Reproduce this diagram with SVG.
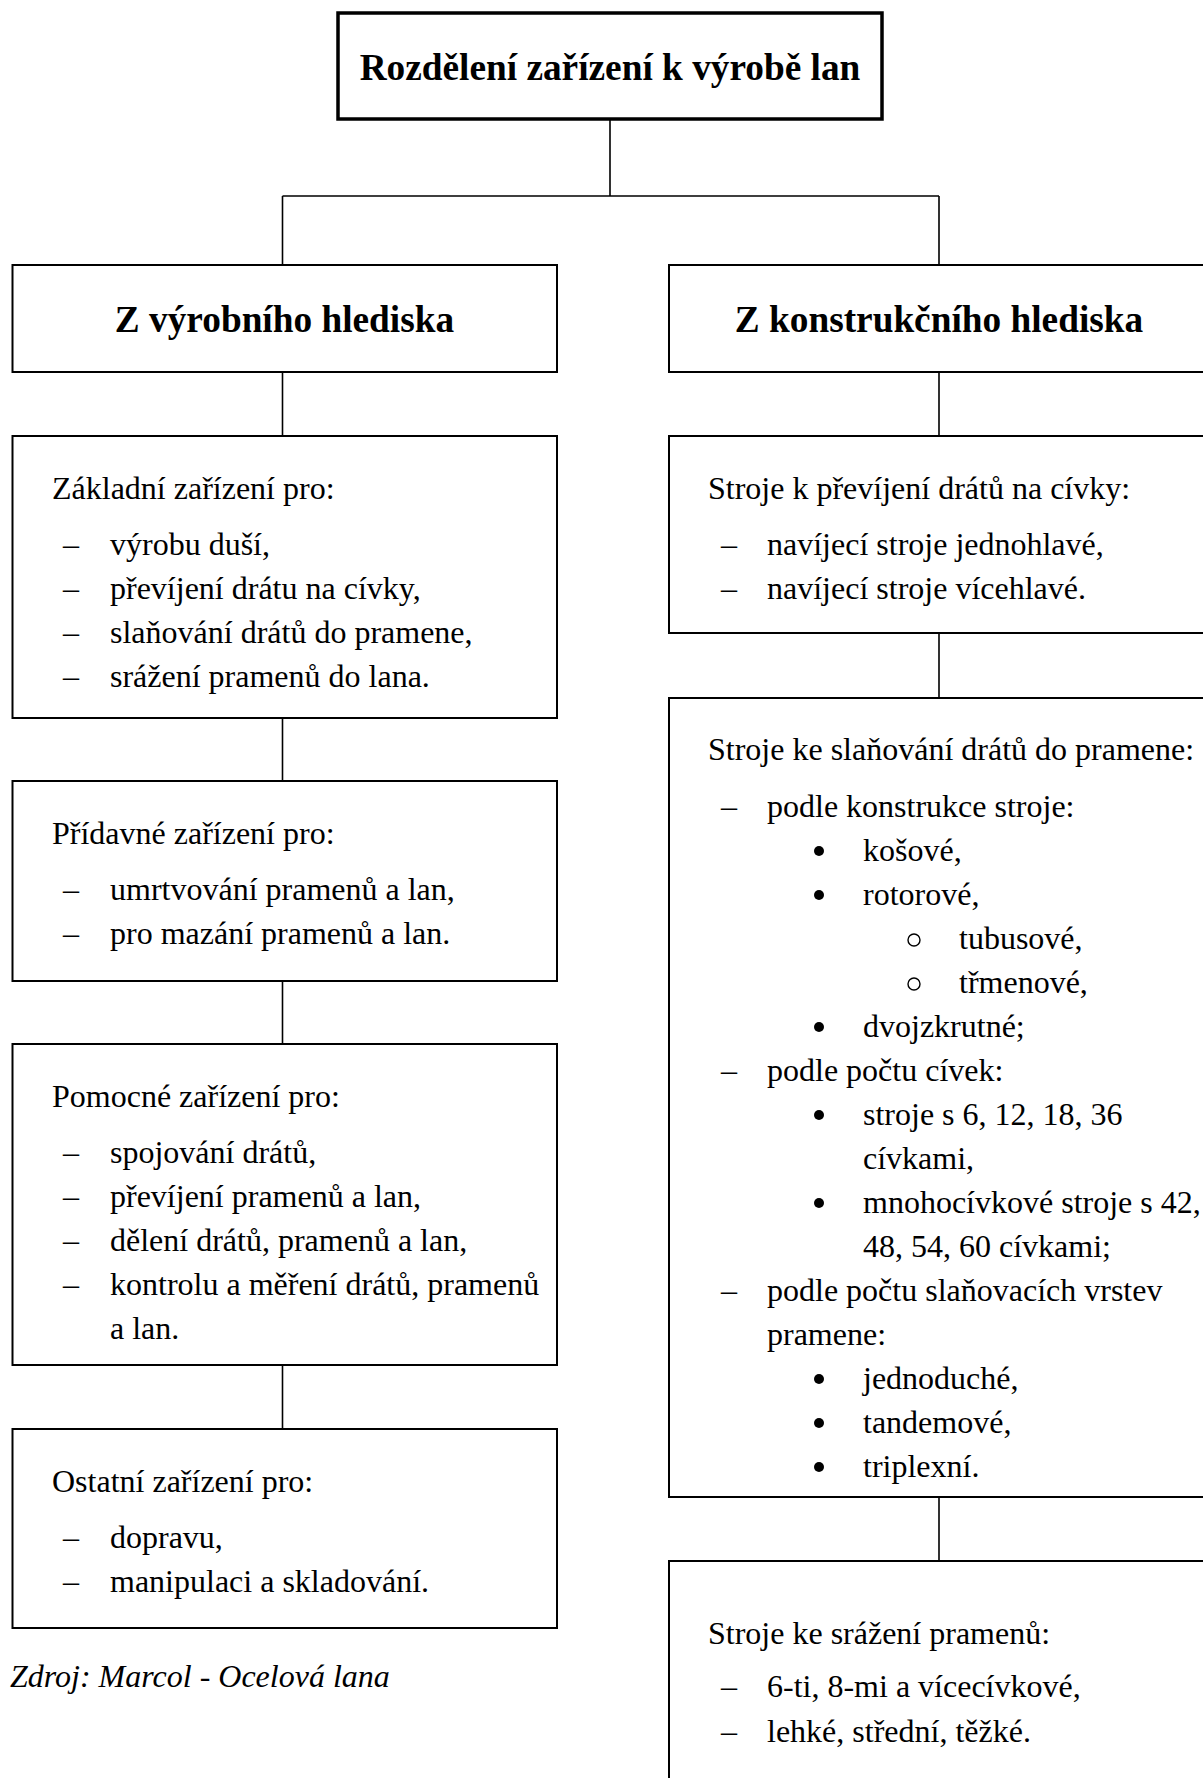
<svg xmlns="http://www.w3.org/2000/svg" width="1203" height="1778" viewBox="0 0 1203 1778">
<style>
.box{fill:#fff;stroke:#000;stroke-width:2}
.top{fill:#fff;stroke:#000;stroke-width:3.5}
.con{stroke:#000;stroke-width:1.6;fill:none}
.dot{fill:#000}
.ring{fill:none;stroke:#000;stroke-width:1.4}
text{font-family:"Liberation Serif","Times New Roman",serif;fill:#000}
.h{font-size:37.3px;font-weight:bold;text-anchor:middle}
.t{font-size:32px}
.src{font-size:32px;font-style:italic}
</style>
<rect width="1203" height="1778" fill="#fff"/>
<g id="connectors">
<path class="con" d="M610 120V196M282.5 196H939M282.5 196V265M939 196V265"/>
<path class="con" d="M282.5 372V436M282.5 718V781M282.5 981V1044M282.5 1365V1429"/>
<path class="con" d="M939 372V436M939 633V698M939 1497V1561"/>
</g>
<g id="root">
<rect class="top" x="338" y="13" width="544" height="106"/>
<text class="h" x="610" y="80">Rozdělení zařízení k výrobě lan</text>
</g>
<g id="left-head">
<rect class="box" x="12.5" y="265" width="544.5" height="107"/>
<text class="h" x="284.5" y="332">Z výrobního hlediska</text>
</g>
<g id="right-head">
<rect class="box" x="669" y="265" width="560" height="107"/>
<text class="h" x="939" y="332">Z konstrukčního hlediska</text>
</g>
<g id="l1">
<rect class="box" x="12.5" y="436" width="544.5" height="282"/>
<text class="t" x="52" y="499">Základní zařízení pro:</text>
<text class="t" x="63" y="555">–</text><text class="t" x="110" y="555">výrobu duší,</text>
<text class="t" x="63" y="599">–</text><text class="t" x="110" y="599">převíjení drátu na cívky,</text>
<text class="t" x="63" y="643">–</text><text class="t" x="110" y="643">slaňování drátů do pramene,</text>
<text class="t" x="63" y="687">–</text><text class="t" x="110" y="687">srážení pramenů do lana.</text>
</g>
<g id="l2">
<rect class="box" x="12.5" y="781" width="544.5" height="200"/>
<text class="t" x="52" y="844">Přídavné zařízení pro:</text>
<text class="t" x="63" y="900">–</text><text class="t" x="110" y="900">umrtvování pramenů a lan,</text>
<text class="t" x="63" y="944">–</text><text class="t" x="110" y="944">pro mazání pramenů a lan.</text>
</g>
<g id="l3">
<rect class="box" x="12.5" y="1044" width="544.5" height="321"/>
<text class="t" x="52" y="1107">Pomocné zařízení pro:</text>
<text class="t" x="63" y="1163">–</text><text class="t" x="110" y="1163">spojování drátů,</text>
<text class="t" x="63" y="1207">–</text><text class="t" x="110" y="1207">převíjení pramenů a lan,</text>
<text class="t" x="63" y="1251">–</text><text class="t" x="110" y="1251">dělení drátů, pramenů a lan,</text>
<text class="t" x="63" y="1295">–</text><text class="t" x="110" y="1295">kontrolu a měření drátů, pramenů</text>
<text class="t" x="110" y="1339">a lan.</text>
</g>
<g id="l4">
<rect class="box" x="12.5" y="1429" width="544.5" height="199"/>
<text class="t" x="52" y="1492">Ostatní zařízení pro:</text>
<text class="t" x="63" y="1548">–</text><text class="t" x="110" y="1548">dopravu,</text>
<text class="t" x="63" y="1592">–</text><text class="t" x="110" y="1592">manipulaci a skladování.</text>
</g>
<g id="source">
<text class="src" x="10" y="1687">Zdroj: Marcol - Ocelová lana</text>
</g>
<g id="r1">
<rect class="box" x="669" y="436" width="560" height="197"/>
<text class="t" x="708" y="499">Stroje k převíjení drátů na cívky:</text>
<text class="t" x="721" y="555">–</text><text class="t" x="767" y="555">navíjecí stroje jednohlavé,</text>
<text class="t" x="721" y="599">–</text><text class="t" x="767" y="599">navíjecí stroje vícehlavé.</text>
</g>
<g id="r2">
<rect class="box" x="669" y="698" width="560" height="799"/>
<text class="t" x="708" y="760">Stroje ke slaňování drátů do pramene:</text>
<text class="t" x="721" y="817">–</text><text class="t" x="767" y="817">podle konstrukce stroje:</text>
<circle class="dot" cx="819" cy="851" r="5"/><text class="t" x="863" y="861">košové,</text>
<circle class="dot" cx="819" cy="895" r="5"/><text class="t" x="863" y="905">rotorové,</text>
<circle class="ring" cx="914" cy="940" r="6"/><text class="t" x="959" y="949">tubusové,</text>
<circle class="ring" cx="914" cy="984" r="6"/><text class="t" x="959" y="993">třmenové,</text>
<circle class="dot" cx="819" cy="1027" r="5"/><text class="t" x="863" y="1037">dvojzkrutné;</text>
<text class="t" x="721" y="1081">–</text><text class="t" x="767" y="1081">podle počtu cívek:</text>
<circle class="dot" cx="819" cy="1115" r="5"/><text class="t" x="863" y="1125">stroje s 6, 12, 18, 36</text>
<text class="t" x="863" y="1169">cívkami,</text>
<circle class="dot" cx="819" cy="1203" r="5"/><text class="t" x="863" y="1213">mnohocívkové stroje s 42,</text>
<text class="t" x="863" y="1257">48, 54, 60 cívkami;</text>
<text class="t" x="721" y="1301">–</text><text class="t" x="767" y="1301">podle počtu slaňovacích vrstev</text>
<text class="t" x="767" y="1345">pramene:</text>
<circle class="dot" cx="819" cy="1379" r="5"/><text class="t" x="863" y="1389">jednoduché,</text>
<circle class="dot" cx="819" cy="1423" r="5"/><text class="t" x="863" y="1433">tandemové,</text>
<circle class="dot" cx="819" cy="1467" r="5"/><text class="t" x="863" y="1477">triplexní.</text>
</g>
<g id="r3">
<rect class="box" x="669" y="1561" width="560" height="240"/>
<text class="t" x="708" y="1644">Stroje ke srážení pramenů:</text>
<text class="t" x="721" y="1697">–</text><text class="t" x="767" y="1697">6-ti, 8-mi a vícecívkové,</text>
<text class="t" x="721" y="1742">–</text><text class="t" x="767" y="1742">lehké, střední, těžké.</text>
</g>
</svg>
